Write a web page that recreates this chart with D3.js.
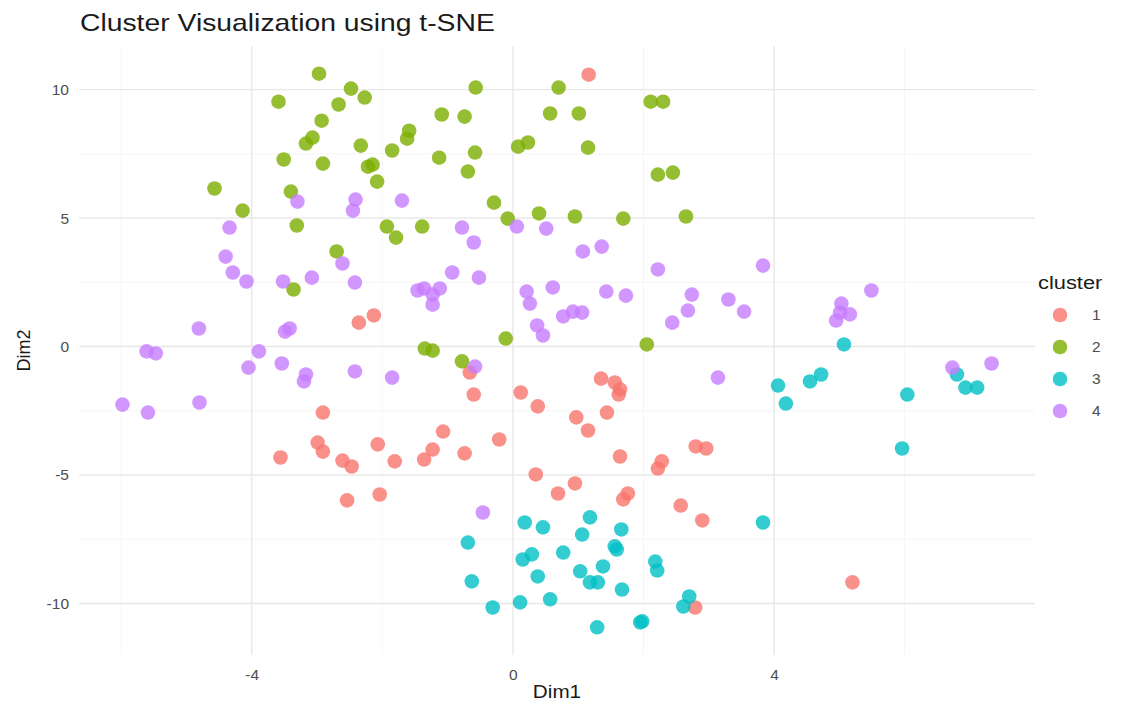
<!DOCTYPE html>
<html>
<head>
<meta charset="utf-8">
<script src="https://cdn.jsdelivr.net/npm/d3@7"></script>
<style>
  body { margin: 0; background: #fff; }
  text { font-family: "Liberation Sans", Arial, sans-serif; }
</style>
</head>
<body>
<script>
// t-SNE coordinates, one pair of arrays per cluster
const c1_dim1 = [1.16, -2.13, -2.36, -0.66, -0.60, 0.12, 0.38, 1.35, 1.56, 1.64, 1.62, 1.44, 0.97, 1.15, -1.07, -1.23, -1.36, -0.74, -0.21, 1.64, 2.80, 2.96, 2.28, 2.22, 0.35, -2.91, -2.99, -2.91, -2.07, -3.56, -2.61, -2.47, -1.81, 0.95, 0.69, 1.76, 1.69, -2.04, 2.57, 2.90, 5.20, 2.79, -2.54];
const c1_dim2 = [10.58, 1.21, 0.93, -1.01, -1.87, -1.79, -2.33, -1.25, -1.40, -1.67, -1.87, -2.57, -2.76, -3.27, -3.31, -4.01, -4.40, -4.16, -3.62, -4.28, -3.89, -3.97, -4.47, -4.75, -4.98, -2.57, -3.74, -4.09, -3.81, -4.32, -4.44, -4.67, -4.47, -5.33, -5.72, -5.72, -5.95, -5.76, -6.19, -6.77, -9.18, -10.16, -5.99];

const c2_dim1 = [-2.97, -3.59, -2.48, -2.27, -2.67, -2.93, -3.07, -3.17, -2.33, -1.85, -1.59, -1.62, -3.51, -2.91, -2.15, -2.22, -2.08, -4.57, -3.40, -4.14, -3.31, -1.93, -1.79, -2.70, -3.36, -0.57, 0.70, 2.11, 2.30, -1.09, -0.74, 0.57, 1.01, 0.08, 0.23, 1.15, -1.13, -0.58, -0.69, 2.22, 2.45, -0.29, -0.08, 0.40, 0.95, 1.69, 2.65, -1.39, -0.11, -1.35, -1.23, 2.05, -0.78];
const c2_dim2 = [10.62, 9.53, 10.04, 9.69, 9.42, 8.79, 8.13, 7.90, 7.82, 7.63, 8.40, 8.09, 7.28, 7.12, 7.08, 7.00, 6.42, 6.15, 6.03, 5.29, 4.71, 4.67, 4.24, 3.70, 2.22, 10.08, 10.08, 9.53, 9.53, 9.03, 8.95, 9.07, 9.07, 7.78, 7.94, 7.74, 7.35, 7.55, 6.81, 6.69, 6.77, 5.60, 4.98, 5.18, 5.06, 4.98, 5.06, 4.67, 0.31, -0.08, -0.16, 0.08, -0.58];

const c3_dim1 = [5.07, 4.06, 4.18, 4.55, 4.72, 6.04, 5.96, 6.80, 6.93, 7.11, 3.83, 0.18, 0.46, 1.18, 1.06, 1.66, -0.69, 1.56, 1.59, 0.29, 0.15, 0.77, 1.38, 1.03, 2.18, 2.21, 0.38, 1.18, 1.30, 1.67, -0.63, -0.31, 0.11, 0.57, 2.70, 2.61, 1.98, 1.95, 1.29];
const c3_dim2 = [0.08, -1.52, -2.22, -1.36, -1.09, -1.87, -3.97, -1.09, -1.60, -1.60, -6.85, -6.85, -7.04, -6.65, -7.32, -7.12, -7.63, -7.78, -7.90, -8.09, -8.29, -8.02, -8.56, -8.75, -8.37, -8.72, -8.95, -9.18, -9.18, -9.46, -9.14, -10.16, -9.96, -9.84, -9.73, -10.12, -10.70, -10.74, -10.93];

const c4_dim1 = [-4.34, -4.40, -4.29, -4.08, -3.52, -3.08, -2.61, -2.42, -3.30, -2.41, -2.45, -1.70, -1.46, -4.81, -3.49, -3.42, -5.61, -5.47, -3.89, -4.05, -3.54, -3.17, -3.20, -2.42, -1.85, -5.98, -5.59, -4.80, -0.93, -0.52, -1.36, -1.12, -1.23, -1.23, -0.78, -0.60, 0.06, 0.51, 1.07, 1.36, 2.22, 0.21, 0.26, 0.61, 1.43, 1.73, 2.74, 2.68, 2.44, 0.77, 0.92, 1.06, 0.37, 0.46, -0.58, 3.14, 3.83, 3.30, 3.54, 5.49, 5.03, 5.16, 4.95, 5.01, 6.73, 7.33, -0.46];
const c4_dim2 = [4.63, 3.50, 2.88, 2.53, 2.53, 2.68, 3.23, 2.49, 5.64, 5.72, 5.29, 5.68, 2.18, 0.70, 0.58, 0.70, -0.19, -0.27, -0.19, -0.82, -0.66, -1.09, -1.36, -0.97, -1.21, -2.26, -2.57, -2.18, 2.88, 2.68, 2.26, 2.26, 2.02, 1.63, 4.63, 4.05, 4.67, 4.59, 3.70, 3.89, 3.00, 2.14, 1.67, 2.30, 2.14, 1.98, 2.02, 1.40, 0.93, 1.17, 1.36, 1.32, 0.82, 0.43, -0.78, -1.21, 3.15, 1.83, 1.36, 2.18, 1.67, 1.25, 1.01, 1.32, -0.82, -0.66, -6.46];

const clusters = ["1", "2", "3", "4"];
const clusterColors = ["#F8766D", "#7CAE00", "#00BFC4", "#C77CFF"];
const xTicks = [-4, 0, 4];
const xMinor = [-6, -2, 2, 6];
const yTicks = [-10, -5, 0, 5, 10];
const yMinor = [-7.5, -2.5, 2.5, 7.5];

const xs = [c1_dim1, c2_dim1, c3_dim1, c4_dim1];
const ys = [c1_dim2, c2_dim2, c3_dim2, c4_dim2];
const points = [];
clusters.forEach((c, i) => {
  xs[i].forEach((x, j) => points.push({ cluster: c, x: x, y: ys[i][j] }));
});

const width = 1144;
const height = 707;
const margin = { top: 46, right: 109, bottom: 52, left: 79 };
const stretch = 1.15; // the source image is a bit stretched sideways

const svg = d3.select("body").append("svg")
  .attr("width", width)
  .attr("height", height);

// ggplot-style 5% padding around the data
const pad = (ext) => {
  const r = ext[1] - ext[0];
  return [ext[0] - r * 0.05, ext[1] + r * 0.05];
};

const x = d3.scaleLinear()
  .domain(pad(d3.extent(points, d => d.x)))
  .range([margin.left, width - margin.right]);
const y = d3.scaleLinear()
  .domain(pad(d3.extent(points, d => d.y)))
  .range([height - margin.bottom, margin.top]);

const color = d3.scaleOrdinal().domain(clusters).range(clusterColors);

// grid
const grid = svg.append("g");
grid.selectAll("line.xminor").data(xMinor).join("line")
  .attr("x1", d => x(d)).attr("x2", d => x(d))
  .attr("y1", margin.top).attr("y2", height - margin.bottom)
  .attr("stroke", "#f2f2f2").attr("stroke-width", 0.8);
grid.selectAll("line.yminor").data(yMinor).join("line")
  .attr("y1", d => y(d)).attr("y2", d => y(d))
  .attr("x1", margin.left).attr("x2", width - margin.right)
  .attr("stroke", "#f2f2f2").attr("stroke-width", 0.8);
grid.selectAll("line.xmajor").data(xTicks).join("line")
  .attr("x1", d => x(d)).attr("x2", d => x(d))
  .attr("y1", margin.top).attr("y2", height - margin.bottom)
  .attr("stroke", "#e8e8e8").attr("stroke-width", 1.4);
grid.selectAll("line.ymajor").data(yTicks).join("line")
  .attr("y1", d => y(d)).attr("y2", d => y(d))
  .attr("x1", margin.left).attr("x2", width - margin.right)
  .attr("stroke", "#e8e8e8").attr("stroke-width", 1.4);

// axes (labels only, theme_minimal has no axis lines)
const xAxis = svg.append("g")
  .attr("transform", `translate(0,${height - margin.bottom})`)
  .call(d3.axisBottom(x).tickValues(xTicks).tickSize(0).tickPadding(14).tickFormat(d3.format("d")));
const yAxis = svg.append("g")
  .attr("transform", `translate(${margin.left},0)`)
  .call(d3.axisLeft(y).tickValues(yTicks).tickSize(0).tickPadding(10).tickFormat(d3.format("d")));
[xAxis, yAxis].forEach(a => {
  a.select(".domain").remove();
  a.selectAll("text")
    .attr("fill", "#4d4d4d")
    .style("font-size", "15.5px")
    .style("font-family", "'Liberation Sans', Arial, sans-serif");
});
// plain hyphen minus like the R output
yAxis.selectAll("text").text(d => String(d));
xAxis.selectAll("text").text(d => String(d));

// points
svg.append("g").selectAll("circle").data(points).join("circle")
  .attr("cx", d => x(d.x))
  .attr("cy", d => y(d.y))
  .attr("r", 7.3)
  .attr("fill", d => color(d.cluster))
  .attr("fill-opacity", 0.8);

// titles
svg.append("text")
  .attr("transform", "translate(80,31) scale(1.18,1)")
  .style("font-size", "24px")
  .attr("fill", "#1a1a1a")
  .text("Cluster Visualization using t-SNE");

svg.append("text")
  .attr("transform", `translate(${(margin.left + width - margin.right) / 2},698) scale(${stretch},1)`)
  .attr("text-anchor", "middle")
  .style("font-size", "18px")
  .attr("fill", "#1a1a1a")
  .text("Dim1");

svg.append("text")
  .attr("transform", `translate(30,${(margin.top + height - margin.bottom) / 2}) rotate(-90)`)
  .attr("text-anchor", "middle")
  .style("font-size", "18px")
  .attr("fill", "#1a1a1a")
  .text("Dim2");

// legend
const legend = svg.append("g").attr("transform", "translate(1038,0)");
legend.append("text")
  .attr("transform", `translate(0,289) scale(${stretch},1)`)
  .style("font-size", "19px")
  .attr("fill", "#1a1a1a")
  .text("cluster");
const items = legend.selectAll("g.item").data(clusters).join("g")
  .attr("transform", (d, i) => `translate(0,${315 + i * 32})`);
items.append("circle")
  .attr("cx", 22).attr("cy", 0).attr("r", 7.3)
  .attr("fill", d => color(d))
  .attr("fill-opacity", 0.8);
items.append("text")
  .attr("x", 54).attr("y", 5)
  .style("font-size", "15.5px")
  .attr("fill", "#4d4d4d")
  .text(d => d);
</script>
</body>
</html>
